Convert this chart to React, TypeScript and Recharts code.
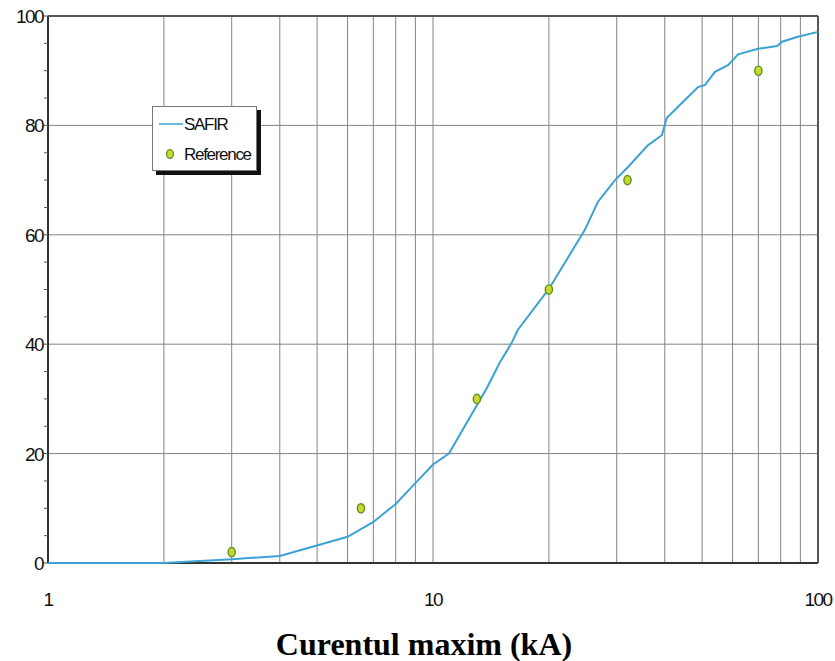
import {
  ComposedChart, Line, Scatter, XAxis, YAxis, ReferenceLine, Label,
} from 'recharts'

// SAFIR curve (x in kA, log scale; y in %)
const safirX = [1, 2, 3, 4, 6, 7, 8, 9, 10, 11, 13.8, 14.9, 16, 16.6, 20, 24.8, 26.8, 29.7, 32.1, 36.2, 39.3, 40.5, 44.3, 48.8, 50.9, 54, 58.4, 62, 69.9, 78.3, 80.6, 88.7, 100]
const safirY = [0, 0, 0.7, 1.3, 4.8, 7.5, 10.8, 14.6, 18, 20, 32, 36.6, 40.2, 42.6, 50.1, 60.9, 66, 70, 72.4, 76.4, 78.2, 81.4, 84.1, 87, 87.4, 89.8, 91, 93, 94, 94.5, 95.3, 96.2, 97.1]

// reference measurements
const refX = [3, 6.5, 13, 20, 32, 70]
const refY = [2, 10, 30, 50, 70, 90]

const xTicks = [1, 2, 3, 4, 5, 6, 7, 8, 9, 10, 20, 30, 40, 50, 60, 70, 80, 90, 100]
const xLabels = [1, 10, 100]
const yTicks = [0, 5, 10, 15, 20, 25, 30, 35, 40, 45, 50, 55, 60, 65, 70, 75, 80, 85, 90, 95, 100]
const yMajor = [20, 40, 60, 80]
const xGrid = [2, 3, 4, 5, 6, 7, 8, 9, 10, 20, 30, 40, 50, 60, 70, 80, 90]

const safirData = safirX.map((x, i) => ({ x, y: safirY[i] }))
const refData = refX.map((x, i) => ({ x, y: refY[i] }))

const LINE = '#3ba3d3'
const DOT_FILL = '#c8d82c'
const DOT_STROKE = '#5a921c'
const GRID = '#848484'
const FONT = '"Liberation Sans", Arial, sans-serif'

function RefDot(props: any) {
  const { cx, cy } = props
  if (cx == null || cy == null) return null
  return <ellipse cx={cx} cy={cy} rx={3.6} ry={4.6} fill={DOT_FILL} stroke={DOT_STROKE} strokeWidth={1.4} />
}

function YTick(props: any) {
  const { x, y, payload } = props
  const v = payload.value
  return (
    <g>
      <line x1={x - 4} x2={x} y1={y} y2={y} stroke="#555" strokeWidth={1} />
      {v % 20 === 0 && (
        <text x={x - 5} y={y + 7} textAnchor="end" fontSize={19} fontFamily={FONT}
          letterSpacing={-1.6} fill="#111">{v}</text>
      )}
    </g>
  )
}

function XTick(props: any) {
  const { x, y, payload } = props
  const v = payload.value
  if (!xLabels.includes(v)) return <g />
  return (
    <text x={x} y={y + 43} textAnchor="middle" fontSize={19} fontFamily={FONT}
      letterSpacing={-1.6} fill="#111">{v}</text>
  )
}

function AxisTitle(props: any) {
  const vb = props.viewBox || {}
  return (
    <text x={vb.x + vb.width / 2 - 9} y={vb.y + vb.height - 6} textAnchor="middle"
      fontFamily='"Liberation Serif", "Times New Roman", serif' fontWeight={700} fontSize={32} fill="#000">
      Curentul maxim (kA)
    </text>
  )
}

function ChartLegend() {
  return (
    <div style={{
      position: 'absolute', left: 152, top: 106, width: 103, height: 63,
      background: '#fff', border: '1px solid #777', boxShadow: '4px 4px 0 #111',
      fontFamily: FONT, fontSize: 17, letterSpacing: -1.3, color: '#111',
    }}>
      <svg width={30} height={60} style={{ position: 'absolute', left: 2, top: 2 }}>
        <line x1={4} x2={28} y1={15} y2={15} stroke={LINE} strokeWidth={1.5} />
        <ellipse cx={15} cy={45} rx={3.4} ry={4.4} fill={DOT_FILL} stroke={DOT_STROKE} strokeWidth={1.2} />
      </svg>
      <div style={{ position: 'absolute', left: 31, top: 8 }}>SAFIR</div>
      <div style={{ position: 'absolute', left: 31, top: 38 }}>Reference</div>
    </div>
  )
}

export default function App() {
  return (
    <div style={{ position: 'absolute', left: 0, top: 0, width: 835, height: 661, background: '#fff' }}>
      <ComposedChart width={835} height={661} margin={{ top: 16, right: 17, left: 0, bottom: 0 }}>
        <XAxis
          dataKey="x"
          type="number"
          scale="log"
          domain={[1, 100]}
          ticks={xTicks}
          interval={0}
          height={98}
          tickSize={0}
          tickMargin={0}
          tick={<XTick />}
          axisLine={false}
          tickLine={false}
        >
          <Label content={<AxisTitle />} />
        </XAxis>
        <YAxis
          type="number"
          domain={[0, 100]}
          ticks={yTicks}
          interval={0}
          width={48}
          tickSize={0}
          tickMargin={0}
          tick={<YTick />}
          axisLine={false}
          tickLine={false}
        />
        {xGrid.map(v => (
          <ReferenceLine key={'gx' + v} x={v} stroke={GRID} strokeWidth={1} />
        ))}
        {yMajor.map(v => (
          <ReferenceLine key={'gy' + v} y={v} stroke={GRID} strokeWidth={1} />
        ))}
        {/* plot frame */}
        <ReferenceLine y={0} stroke="#333" strokeWidth={2} />
        <ReferenceLine x={1} stroke="#333" strokeWidth={2} />
        <ReferenceLine y={100} stroke="#555" strokeWidth={2} />
        <ReferenceLine x={100} stroke="#555" strokeWidth={2} />
        <Line
          data={safirData}
          dataKey="y"
          type="linear"
          stroke={LINE}
          strokeWidth={2}
          dot={false}
          activeDot={false}
          isAnimationActive={false}
        />
        <Scatter
          data={refData}
          dataKey="y"
          shape={<RefDot />}
          isAnimationActive={false}
        />
      </ComposedChart>
      <ChartLegend />
    </div>
  )
}
